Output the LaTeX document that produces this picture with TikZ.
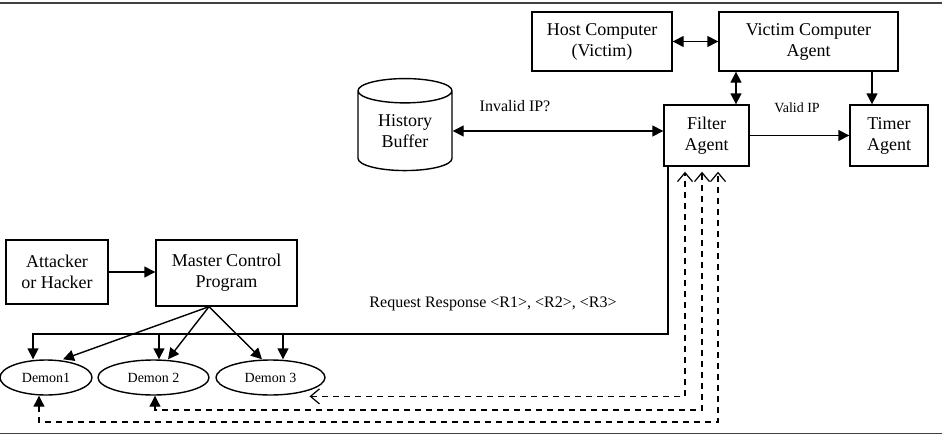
\documentclass[tikz,border=0pt]{standalone}
\usepackage{fontspec}
\setmainfont{Liberation Serif}
\usetikzlibrary{arrows.meta,shapes.geometric}

\begin{document}
\begin{tikzpicture}[
        x=1pt, y=-1pt,
        line width=1.4pt,
        tipF/.tip={Triangle[length=11pt,width=11pt]},
        tipV/.tip={Straight Barb[length=9pt,width=15pt]},
        >=tipF,
        box/.style={draw, align=center, inner sep=0pt, font=\fontsize{18}{21}\selectfont},
        store/.style={draw, cylinder, shape border rotate=90, aspect=0.45, align=center, inner sep=0pt, font=\fontsize{18}{21}\selectfont},
        demon/.style={draw, ellipse, inner sep=0pt, minimum height=35pt, font=\fontsize{14}{16}\selectfont},
        note/.style={font=\fontsize{16}{18}\selectfont},
        dsh/.style={line width=1.2pt, dash pattern=on 6pt off 5pt},
        rule/.style={line width=1.8pt, draw=black!75}
    ]
        \useasboundingbox (0,0) rectangle (942,436);
        \draw[rule] (0,3) -- (942,3);
        \draw[rule] (0,433.5) -- (942,433.5);
        \node[box, minimum width=140pt, minimum height=59pt] (host) at (602,41.5) {Host Computer\\(Victim)};
        \node[box, minimum width=179pt, minimum height=59pt] (victim) at (808.5,41.5) {Victim Computer\\Agent};
        \node[box, minimum width=85pt, minimum height=61pt] (filter) at (706.5,135.5) {Filter\\Agent};
        \node[box, minimum width=78pt, minimum height=61pt] (timer) at (889,135.5) {Timer\\Agent};
        \node[store, minimum width=94pt, minimum height=92pt] (history) at (405,131) {History\\Buffer};
        \node[box, minimum width=102pt, minimum height=64pt] (attacker) at (57,272) {Attacker\\or Hacker};
        \node[box, minimum width=141pt, minimum height=66pt] (master) at (226.5,273) {Master Control\\Program};
        \node[demon, minimum width=92pt] (demon1) at (46,377.5) {Demon1};
        \node[demon, minimum width=111pt] (demon2) at (153.5,377.5) {Demon 2};
        \node[demon, minimum width=109pt] (demon3) at (270.5,377.5) {Demon 3};
        \node[note] (invalid) at (515,106) {Invalid IP?};
        \node[note, font=\fontsize{14}{16}\selectfont] (valid) at (797,108) {Valid IP};
        \node[note] (request) at (493,304) {Request Response <R1>, <R2>, <R3>};
        \coordinate (bus) at (0,334);
        \coordinate (lvlB) at (0,410);
        \coordinate (lvlC) at (0,422);
        % victim side
        \draw[<->] (host.east) -- (victim.west);
        \draw[<->] ([xshift=29.5pt]filter.north) -- ([xshift=29.5pt]filter.north |- victim.south);
        \draw[->] ([xshift=-17pt]timer.north |- victim.south) -- ([xshift=-17pt]timer.north);
        \draw[->] (filter.east) -- (timer.west);
        \draw[<->] (history.east) -- (history.east -| filter.west);
        % attacker side
        \draw[->] (attacker.east) -- (attacker.east -| master.west);
        \draw[->] ([xshift=-17.5pt]master.south) -- ([xshift=17pt]demon1.north);
        \draw[->] ([xshift=-17.5pt]master.south) -- ([xshift=14.5pt]demon2.north);
        \draw[->] ([xshift=-17.5pt]master.south) -- ([xshift=-8.5pt]demon3.north);
        % request bus
        \draw[->] ([xshift=-38.5pt]filter.south) |- ([xshift=-13pt]demon1.north |- bus) -- ([xshift=-13pt]demon1.north);
        \draw[->] ([xshift=5.5pt]demon2.north |- bus) -- ([xshift=5.5pt]demon2.north);
        \draw[->] ([xshift=12.5pt]demon3.north |- bus) -- ([xshift=12.5pt]demon3.north);
        % responses
        \draw[dsh, tipV-tipV, shorten >=5pt] ([yshift=-6pt]demon3.south east) -| ([xshift=-21.5pt]filter.south);
        \draw[dsh, tipF-tipV, shorten >=5pt] ([xshift=1.5pt]demon2.south) |- ([xshift=-4.5pt]filter.south |- lvlB) -- ([xshift=-4.5pt]filter.south);
        \draw[dsh, tipF-tipV, shorten >=5pt] ([xshift=-7pt]demon1.south) |- ([xshift=11.5pt]filter.south |- lvlC) -- ([xshift=11.5pt]filter.south);
    \end{tikzpicture}
\end{document}
